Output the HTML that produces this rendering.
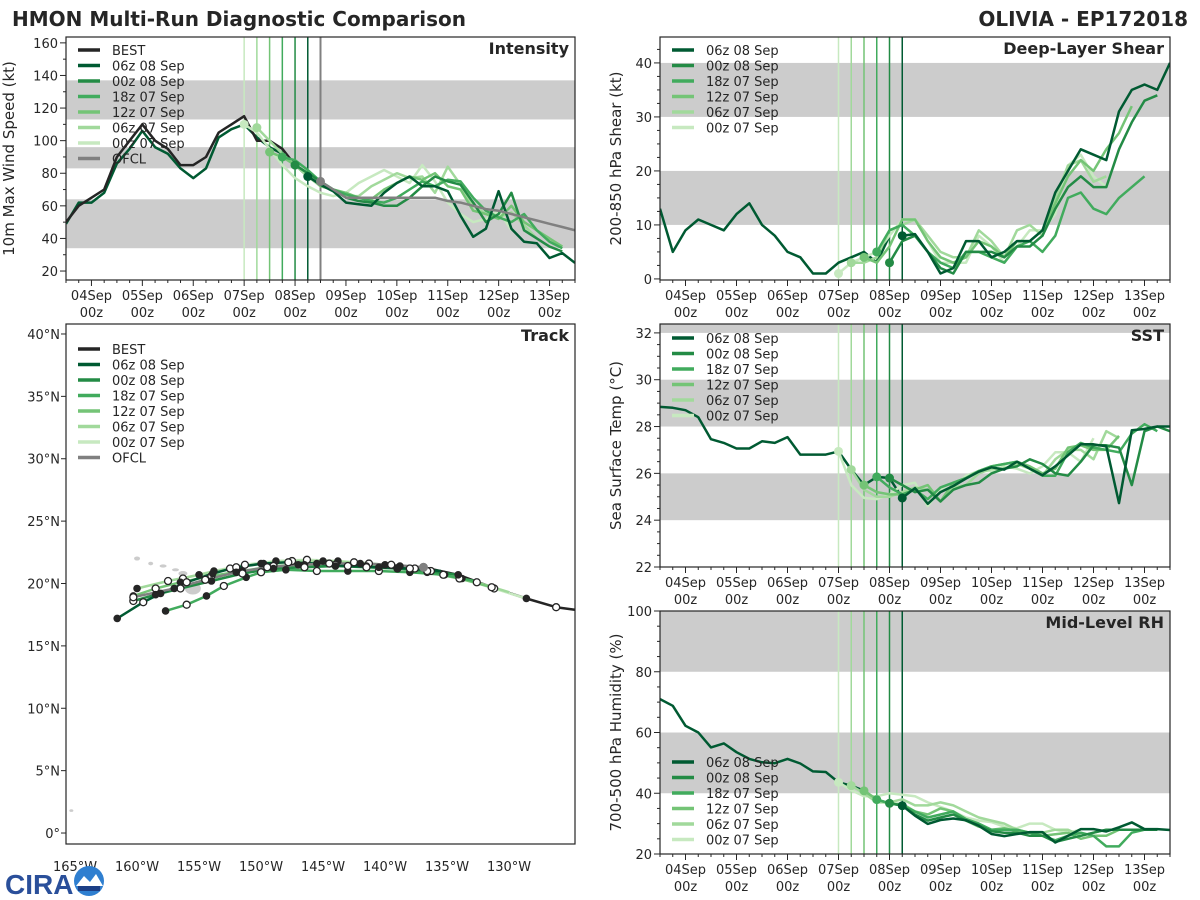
<!DOCTYPE html>
<html><head><meta charset="utf-8">
<style>
body{margin:0;background:#fff;}
svg{display:block;font-family:"DejaVu Sans","Liberation Sans",sans-serif;}
</style></head>
<body>
<svg id="chart" width="1200" height="900" viewBox="0 0 1200 900" xmlns="http://www.w3.org/2000/svg">
<rect width="1200" height="900" fill="#fff"/>
<text x="12" y="26" font-size="20" font-weight="bold" fill="#262626">HMON Multi-Run Diagnostic Comparison</text>
<text x="1188" y="26" font-size="20" font-weight="bold" fill="#262626" text-anchor="end">OLIVIA - EP172018</text>
<g id="logo">
<text x="5" y="894" font-size="28" font-weight="bold" fill="#2a4f9a" font-family="Liberation Sans, sans-serif">CIRA</text>
<circle cx="89" cy="881" r="15" fill="#2f7fd0"/>
<path d="M76 886 L84 876 L90 882 L96 874 L103 886 Z" fill="#fff"/>
<rect x="78" y="886" width="22" height="5" fill="#1c3f86"/>
</g>
</svg>
<script>
// ---------- data ----------
const runNames = ["06z 08 Sep","00z 08 Sep","18z 07 Sep","12z 07 Sep","06z 07 Sep","00z 07 Sep"];
const runColors = ["#005a32","#238b45","#41ab5d","#74c476","#a1d99b","#c7e9c0"];
const runStart = [19,18,17,16,15,14]; // 6-hourly index, index 0 = 03Sep 12z
const dayTicks = ["04Sep","05Sep","06Sep","07Sep","08Sep","09Sep","10Sep","11Sep","12Sep","13Sep"];

const bestIntensity = [50,60,65,70,90,100,110,100,95,85,85,90,105,110,115,100,100,95,85,80,75];
const ofclIntensity = [75,70,65,65,65,65,65,65,65,65,63,62,60,58,57,55,53,51,49,47,45];
const intHistory = [49,62,62,68,86,95,106,96,92,83,77,83,102,107,110,102,96,92,85];
const int06z08 = [78,73,69,62,61,60,68,74,78,72,72,69,54,41,46,69,46,38,37,28,31,25];
const int00z08 = [85,80,75,70,65,63,62,60,60,65,72,78,75,73,62,50,55,68,45,40,35,32];
const int18z07 = [90,88,82,75,70,67,65,63,62,65,70,75,72,76,75,65,57,53,50,55,45,38,34];
const int12z07 = [93,90,85,80,72,70,68,65,64,70,74,78,76,80,72,70,57,55,52,60,50,45,40,35];
const int06z07 = [108,100,92,85,78,72,70,66,66,72,76,80,77,78,68,84,73,60,55,53,56,48,40];
const int00z07 = [110,105,95,85,77,72,68,66,68,74,78,82,78,74,85,75,62,55,50,52,57,45];

const shrHistory = [13,5,9,11,10,9,12,14,10,8,5,4,1,1,3,4,5,3];
const shr06z08 = [8,8.3,5,1,2,7,7,4,5,7,7,9,16,20,24,23,22,31,35,36,35,40];
const shr00z08 = [3,7,8,5,2,1,5,5,5,4,6,6,8,13,17,19,17,17,24,29,33,34];
const shr18z07 = [5,9,10,8,5,3,2,5,5,4,3,6,7,5,8,15,16,13,12,15,17,19];
const shr12z07 = [4,3,6,11,11,7,4,3,4,7,6,4,7,7,9,14,19,22,20,24,27,32];
const shr06z07 = [3,3,4,9,10,11,8,5,4,4,9,7,4,9,10,8,15,21,22,18,19];
const shr00z07 = [1,3,4,5,8,11,11,7,3,3,3,8,6,3,6,9,9,12,21,23,19,17];

const sstHistory = [28.84,28.8,28.7,28.4,27.46,27.3,27.06,27.06,27.37,27.3,27.55,26.8,26.8,26.8,26.94,26.16,25.5,25.85,25.8];
const sst06z08 = [24.95,25.37,24.7,25.2,25.46,25.78,26.07,26.26,26.16,26.5,26.2,25.92,26.3,26.77,27.24,27.24,27.15,24.73,27.84,27.9,28.0,28.0];
const sst00z08 = [25.8,25.5,25.2,25.3,24.8,25.3,25.5,25.6,26,26.2,26.3,26.6,26.4,26,25.9,26.5,27.2,27.2,27.1,25.5,27.8,28,27.8];
const sst18z07 = [25.85,25.4,25.1,25.3,24.9,25.4,25.6,25.8,26.1,26.3,26.4,26.5,26.2,25.9,25.9,26.9,27.3,27.1,27.0,26.9,27.7,28.1,27.8];
const sst12z07 = [25.5,25.2,25.1,25.1,25.3,25.5,24.8,25.6,25.8,26.1,26.3,26.4,26.5,26.3,26.0,26.2,27.1,27.2,27.0,27.0,27.6];
const sst06z07 = [26.16,25.3,25.0,25.0,25.2,25.4,25.3,24.8,25.4,25.5,26.0,26.2,26.2,26.4,26.2,25.9,26.6,27.0,27.0,26.6,27.8,27.5];
const sst00z07 = [26.94,25.5,24.95,24.9,25.1,25.5,25.6,24.6,25.3,25.4,25.9,26.1,26.1,26.3,26.2,26.0,26.3,26.9,26.9,26.5,27.5];

const rhHistory = [71,68.8,62.2,60,55.1,56.4,53.5,51.3,50.2,49.9,51.3,49.8,47.2,47,43.6,42.5,40.8,37.9,36.7];
const rh06z08 = [35.9,32.6,29.9,31.2,31.7,31.1,29.3,26.6,25.9,26.6,27.2,27.2,23.8,26,28.2,28.2,27.4,28.8,30.4,28.2,28.2,27.9];
const rh00z08 = [36.7,36,33,31,32,33,31,29.5,27.5,27,27,26,26,24,25,26,27,28,28,28,28,28];
const rh18z07 = [37.9,36.7,36,34,32,33,34,31.5,30,28,28,28,27,26,24.5,26,27,26,22.5,22.5,27,28,28];
const rh12z07 = [40.8,38,36.5,36.5,34,33,35,34,31,29,28,28.5,27.5,27,26,26.5,27,25,26,26,28,28,28];
const rh06z07 = [42.5,40,37,37,38,36,36,37,36,34,32,31,30,28,27,27,28,28,26,27,28,28];
const rh00z07 = [43.6,41,39,39,40,39.5,39,37,35.5,34,32,31,30.5,29,28.5,30,30,28,27,28];

const bestLon = [-124.7,-126.2,-128.6,-131.4,-134.1,-136.9];
const bestLat = [17.9,18.1,18.8,19.7,20.7,21.3];
const ofclLon = [-136.9,-139.5,-142,-144.5,-147,-149.5,-152,-154.5,-157,-160.3];
const ofclLat = [21.3,21.5,21.6,21.6,21.5,21.3,20.9,20.3,19.6,18.9];
const trk06z08Lon = [-135.5,-138,-140.5,-143,-145.5,-147.8,-149.8,-152,-153.9,-156,-158.1,-159.5,-161.6];
const trk06z08Lat = [21.0,21.2,21.3,21.4,21.6,21.7,21.6,21.3,20.8,20.1,19.2,18.5,17.2];
const trk00z08Lon = [-134.1,-136.6,-139,-141.5,-144,-146.5,-149,-151.5,-154,-156.5,-158.5,-160.3];
const trk00z08Lat = [20.7,21.0,21.2,21.3,21.4,21.3,21.2,20.8,20.2,19.6,19.1,18.6];
const trk18z07Lon = [-132.8,-135.3,-138,-140.5,-143,-145.5,-148,-150,-151.2,-153,-154.4,-156,-157.7];
const trk18z07Lat = [20.2,20.7,20.9,21.0,21.0,21.0,21.1,20.9,20.5,19.8,19.0,18.3,17.8];
const trk12z07Lon = [-131.4,-134,-136.6,-139,-141.5,-144,-146.5,-149,-151.5,-154,-156.5,-158.5,-160.3];
const trk12z07Lat = [19.7,20.4,20.9,21.2,21.4,21.5,21.5,21.4,21.0,20.6,20.1,19.6,19.0];
const trk06z07Lon = [-130,-132.6,-135.2,-137.6,-140,-142.5,-145,-147.5,-150,-152.5,-155,-157.5,-160];
const trk06z07Lat = [19.3,20.1,20.7,21.2,21.5,21.7,21.8,21.8,21.6,21.2,20.7,20.2,19.6];
const trk00z07Lon = [-128.6,-131.2,-133.8,-136.3,-138.8,-141.3,-143.8,-146.3,-148.8,-151.3,-153.8,-156.3];
const trk00z07Lat = [18.8,19.6,20.4,21.0,21.4,21.6,21.8,21.9,21.8,21.5,21.0,20.4];
const latTicks = [0,5,10,15,20,25,30,35,40];
const lonTicks = [-165,-160,-155,-150,-145,-140,-135,-130];

// ---------- helpers ----------
const NS = "http://www.w3.org/2000/svg";
const svg = document.getElementById("chart");
function mk(tag, attrs, parent){
  const e = document.createElementNS(NS, tag);
  for (const k in attrs) e.setAttribute(k, attrs[k]);
  (parent||svg).appendChild(e);
  return e;
}
function idxToDay(i){ return -0.5 + i*0.25; }
const defs = mk("defs", {});
let clipN = 0;

function makePanel(p){
  const g = mk("g", {});
  
  
  const xs = d => p.x0 + (d + 0.5) / 10 * (p.x1 - p.x0);
  const ys = v => p.y1 - (v - p.vmin) / (p.vmax - p.vmin) * (p.y1 - p.y0);
  p.xs = xs; p.ys = ys; p.g = g;
  const cid = "clip" + (clipN++);
  const cp = mk("clipPath", {id:cid}, defs);
  mk("rect", {x:p.x0, y:p.y0, width:p.x1-p.x0, height:p.y1-p.y0}, cp);
  p.cg = mk("g", {"clip-path":`url(#${cid})`}, g);
  p.bands.forEach(b => {
    const top = ys(Math.min(b[1], p.vmax)), bot = ys(Math.max(b[0], p.vmin));
    const r = mk("rect", {x:p.x0, y:top, width:p.x1-p.x0, height:bot-top, fill:"#cccccc"}, p.cg);
    
    
  });
  for (let k=5;k>=0;k--){
    const x = xs(idxToDay(runStart[k]));
    const l = mk("line", {x1:x, x2:x, y1:p.y0, y2:p.y1, stroke:runColors[k], "stroke-width":1.5}, p.cg);
    
    
  }
  if (p.ofclLine){
    const x = xs(idxToDay(20));
    const l = mk("line", {x1:x, x2:x, y1:p.y0, y2:p.y1, stroke:"#808080", "stroke-width":2}, p.cg);
    
    
  }
  for (let i=0;i<=40;i++){
    const x = xs(idxToDay(i));
    const major = (i-2)%4===0;
    mk("line", {x1:x, x2:x, y1:p.y1, y2:p.y1+(major?6:3), stroke:"#262626", "stroke-width":1}, g);
  }
  dayTicks.forEach((t, j) => {
    const x = xs(j);
    const a = mk("text", {x:x, y:p.y1+20, "font-size":13, "text-anchor":"middle", fill:"#262626"}, g);
    a.textContent = t;
    
    
    const b = mk("text", {x:x, y:p.y1+37, "font-size":13, "text-anchor":"middle", fill:"#262626"}, g);
    b.textContent = "00z";
    
    
  });
  for (let v=p.tickStart; v<=p.vmax+1e-6; v+=p.minor){
    if (v < p.vmin) continue;
    const y = ys(v);
    const major = Math.abs(((v - p.tickStart) / p.major) - Math.round((v - p.tickStart) / p.major)) < 1e-6;
    mk("line", {x1:p.x0-(major?6:3), x2:p.x0, y1:y, y2:y, stroke:"#262626", "stroke-width":1}, g);
    if (major){
      const t = mk("text", {x:p.x0-8, y:y+5, "font-size":13, "text-anchor":"end", fill:"#262626"}, g);
      t.textContent = v;
      
      
    }
  }
  const yl = mk("text", {x:0, y:0, "font-size":15, "text-anchor":"middle", fill:"#262626",
    transform:`translate(${p.ylx},${(p.y0+p.y1)/2}) rotate(-90)`}, g);
  yl.textContent = p.ylabel;
  
  
  const pt = mk("text", {x:p.x1-6, y:p.y0+17, "font-size":16, "font-weight":"bold", "text-anchor":"end", fill:"#262626"}, g);
  pt.textContent = p.title;
  
  
  return p;
}

function drawSeries(p, startIdx, vals, color, width, name, marker){
  let d = "";
  vals.forEach((v,i) => {
    const x = p.xs(idxToDay(startIdx+i)), y = p.ys(v);
    d += (i? "L":"M") + x.toFixed(1) + " " + y.toFixed(1);
  });
  const path = mk("path", {d:d, fill:"none", stroke:color, "stroke-width":width, "stroke-linejoin":"round"}, p.cg);
  
  
  if (marker){
    const c = mk("circle", {cx:p.xs(idxToDay(startIdx)), cy:p.ys(vals[0]), r:4.5, fill:color}, p.cg);
    
    
  }
}

function frame(p){
  const f = mk("rect", {x:p.x0, y:p.y0, width:p.x1-p.x0, height:p.y1-p.y0, fill:"none", stroke:"#262626", "stroke-width":1.2}, p.g);
  
  
}

function legend(g, x, y, entries){
  const lg = mk("g", {}, g);
  
  
  entries.forEach((e,i) => {
    const yy = y + i*15.5;
    const eg = mk("g", {}, lg);
    
    
    mk("line", {x1:x, x2:x+22, y1:yy, y2:yy, stroke:e[1], "stroke-width":3.5}, eg);
    const t = mk("text", {x:x+34, y:yy+5, "font-size":13, fill:"#262626"}, eg);
    t.textContent = e[0];
  });
}

const runEntries = runNames.map((n,i)=>[n, runColors[i]]);

// ---------- Intensity ----------
const pI = makePanel({name:"intensity", x0:66, x1:575, y0:37, y1:280, vmin:14.5, vmax:163.6,
  bands:[[34,64],[83,96],[113,137]], tickStart:20, major:20, minor:10, ylx:14,
  ylabel:"10m Max Wind Speed (kt)", title:"Intensity", ofclLine:true});
const intRuns = [int06z08,int00z08,int18z07,int12z07,int06z07,int00z07];
drawSeries(pI, 0, intHistory.concat([int06z08[0]]), runColors[0], 2.5, "intensity-06z08-history", false);
drawSeries(pI, 0, bestIntensity, "#252525", 2.5, "intensity-best", false);
for (let k=5;k>=0;k--) drawSeries(pI, runStart[k], intRuns[k], runColors[k], 2.5, "intensity-run-"+k, true);
drawSeries(pI, 20, ofclIntensity, "#808080", 2.5, "intensity-ofcl", true);
frame(pI);
legend(pI.g, 78, 50, [["BEST","#252525"]].concat(runEntries).concat([["OFCL","#808080"]]));

// ---------- Shear ----------
const pS = makePanel({name:"shear", x0:660, x1:1170, y0:37, y1:280, vmin:-0.2, vmax:44.8,
  bands:[[10,20],[30,40]], tickStart:0, major:10, minor:2.5, ylx:621,
  ylabel:"200-850 hPa Shear (kt)", title:"Deep-Layer Shear"});
const shrRuns = [shr06z08,shr00z08,shr18z07,shr12z07,shr06z07,shr00z07];
drawSeries(pS, 0, shrHistory.concat([shr06z08[0]]), runColors[0], 2.5, "shear-history", false);
for (let k=5;k>=0;k--) drawSeries(pS, runStart[k], shrRuns[k], runColors[k], 2.5, "shear-run-"+k, true);
frame(pS);
legend(pS.g, 672, 50, runEntries);

// ---------- SST ----------
const pT = makePanel({name:"sst", x0:660, x1:1170, y0:324, y1:567, vmin:22, vmax:32.38,
  bands:[[24,26],[28,30],[32,33]], tickStart:22, major:2, minor:0.5, ylx:621,
  ylabel:"Sea Surface Temp (\u00B0C)", title:"SST"});
const sstRuns = [sst06z08,sst00z08,sst18z07,sst12z07,sst06z07,sst00z07];
drawSeries(pT, 0, sstHistory.concat([sst06z08[0]]), runColors[0], 2.5, "sst-history", false);
for (let k=5;k>=0;k--) drawSeries(pT, runStart[k], sstRuns[k], runColors[k], 2.5, "sst-run-"+k, true);
frame(pT);
legend(pT.g, 672, 338, runEntries);

// ---------- RH ----------
const pR = makePanel({name:"rh", x0:660, x1:1170, y0:611, y1:854, vmin:20, vmax:100,
  bands:[[40,60],[80,100]], tickStart:20, major:20, minor:5, ylx:621,
  ylabel:"700-500 hPa Humidity (%)", title:"Mid-Level RH"});
const rhRuns = [rh06z08,rh00z08,rh18z07,rh12z07,rh06z07,rh00z07];
drawSeries(pR, 0, rhHistory.concat([rh06z08[0]]), runColors[0], 2.5, "rh-history", false);
for (let k=5;k>=0;k--) drawSeries(pR, runStart[k], rhRuns[k], runColors[k], 2.5, "rh-run-"+k, true);
frame(pR);
legend(pR.g, 672, 762, runEntries);

// ---------- Track ----------
const tx0=66, tx1=575, ty0=324, ty1=844;
const lonMin=-165.73, lonMax=-124.68, latMin=-0.88, latMax=40.8;
const lx = lon => tx0 + (lon-lonMin)/(lonMax-lonMin)*(tx1-tx0);
const ly = lat => ty1 - (lat-latMin)/(latMax-latMin)*(ty1-ty0);
const tg = mk("g", {});


[[-160.0,22.0,3,2],[-158.9,21.6,2.5,1.8],[-157.9,21.4,3.5,1.6],[-156.9,21.1,3.5,1.5],[-156.3,20.8,4.5,2.5],[-155.5,19.6,8,6],[-165.3,1.8,2,1.3]].forEach(c=>{
  const e = mk("ellipse", {cx:lx(c[0]), cy:ly(c[1]), rx:c[2], ry:c[3], fill:"#cccccc"}, tg);
  
  
});
function drawTrack(lons, lats, color, name){
  let d = "";
  lons.forEach((lo,i)=>{ d += (i?"L":"M") + lx(lo).toFixed(1) + " " + ly(lats[i]).toFixed(1); });
  const p = mk("path", {d:d, fill:"none", stroke:color, "stroke-width":2.5, "stroke-linejoin":"round"}, tg);
  
  
}
function drawTrackMarkers(lons, lats, name){
  lons.forEach((lo,i)=>{
    if (i===0) return;
    if (i%2===0){
      const c = mk("circle", {cx:lx(lo), cy:ly(lats[i]), r:3.8, fill:"#252525"}, tg);
      
      
    } else {
      const c = mk("circle", {cx:lx(lo), cy:ly(lats[i]), r:3.5, fill:"#fff", stroke:"#252525", "stroke-width":1.3}, tg);
      
      
    }
  });
}
const trkLons = [trk06z08Lon,trk00z08Lon,trk18z07Lon,trk12z07Lon,trk06z07Lon,trk00z07Lon];
const trkLats = [trk06z08Lat,trk00z08Lat,trk18z07Lat,trk12z07Lat,trk06z07Lat,trk00z07Lat];
drawTrack(bestLon, bestLat, "#252525", "track-best");
for (let k=5;k>=0;k--) drawTrack(trkLons[k], trkLats[k], runColors[k], "track-run-"+k);
drawTrack(ofclLon, ofclLat, "#808080", "track-ofcl");
for (let k=5;k>=0;k--) drawTrackMarkers(trkLons[k], trkLats[k], "track-run-"+k);
drawTrackMarkers(ofclLon, ofclLat, "track-ofcl");
drawTrackMarkers(bestLon, bestLat, "track-best");
const of = mk("circle", {cx:lx(ofclLon[0]), cy:ly(ofclLat[0]), r:4.5, fill:"#808080"}, tg);


latTicks.forEach(v=>{
  const y = ly(v);
  mk("line", {x1:tx0-5, x2:tx0, y1:y, y2:y, stroke:"#262626"}, tg);
  const t = mk("text", {x:tx0-6, y:y+5, "font-size":13, "text-anchor":"end", fill:"#262626"}, tg);
  t.textContent = v + "\u00B0" + (v===0 ? "" : "N");
  
  
});
lonTicks.forEach(v=>{
  const x = lx(v);
  const t = mk("text", {x:x, y:871, "font-size":13, "text-anchor":"middle", fill:"#262626"}, tg);
  t.textContent = (-v) + "\u00B0W";
  
  
});
const tf = mk("rect", {x:tx0, y:ty0, width:tx1-tx0, height:ty1-ty0, fill:"none", stroke:"#262626", "stroke-width":1.2}, tg);


const tt = mk("text", {x:tx1-6, y:ty0+17, "font-size":16, "font-weight":"bold", "text-anchor":"end", fill:"#262626"}, tg);
tt.textContent = "Track";


legend(tg, 78, 349, [["BEST","#252525"]].concat(runEntries).concat([["OFCL","#808080"]]));
svg.appendChild(document.getElementById("logo"));
</script>
</body></html>
